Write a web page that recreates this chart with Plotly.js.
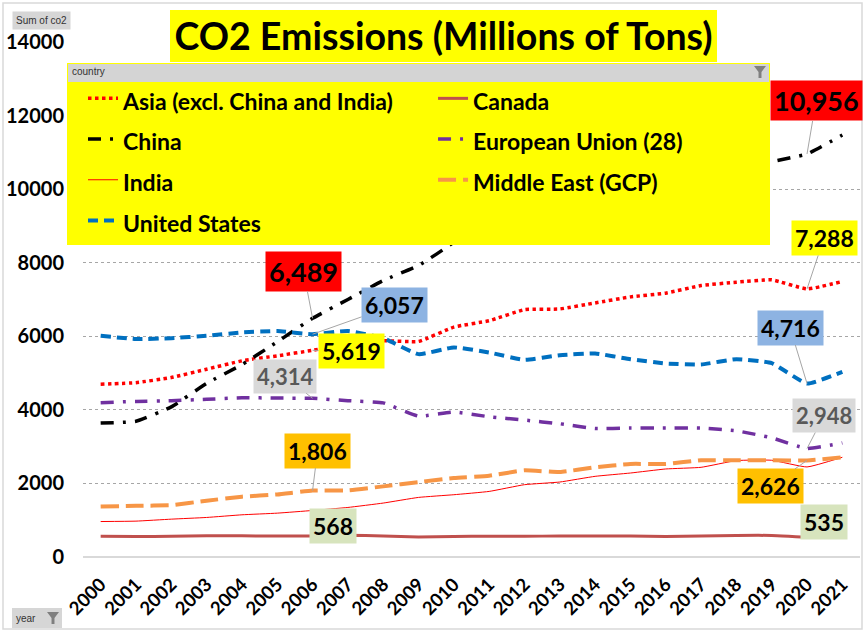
<!DOCTYPE html>
<html>
<head>
<meta charset="utf-8">
<script src="https://cdn.plot.ly/plotly-3.0.1.min.js"></script>
<style>
  html, body { margin: 0; padding: 0; background: #ffffff; }
  #chart { width: 865px; height: 632px; }
</style>
</head>
<body>
<div id="chart"></div>
<script>
// ---------- data ----------
const years = ['2000','2001','2002','2003','2004','2005','2006','2007','2008','2009','2010',
               '2011','2012','2013','2014','2015','2016','2017','2018','2019','2020','2021'];
const asia       = [4696, 4740, 4878, 5105, 5332, 5469, 5619, 5790, 5880, 5860, 6250, 6424, 6724, 6743, 6907, 7071, 7172, 7380, 7471, 7535, 7288, 7490];
const canada     = [565, 555, 565, 575, 575, 570, 568, 590, 572, 545, 560, 565, 565, 570, 570, 570, 560, 570, 585, 585, 535, 545];
const china      = [3640, 3690, 4080, 4720, 5230, 5850, 6489, 7000, 7516, 7925, 8560, 9530, 9780, 9960, 10010, 9860, 9840, 10010, 10350, 10740, 10956, 11470];
const eu         = [4196, 4230, 4250, 4286, 4330, 4320, 4314, 4250, 4190, 3830, 3940, 3813, 3722, 3622, 3494, 3504, 3504, 3504, 3431, 3240, 2948, 3103];
const india      = [964, 975, 1029, 1075, 1147, 1192, 1265, 1347, 1466, 1620, 1693, 1783, 1966, 2038, 2193, 2283, 2393, 2438, 2621, 2630, 2448, 2711];
const middleEast = [1374, 1390, 1410, 1530, 1640, 1700, 1806, 1810, 1920, 2038, 2147, 2210, 2356, 2310, 2438, 2530, 2530, 2630, 2630, 2630, 2626, 2711];
const us         = [6014, 5924, 5950, 6014, 6105, 6142, 6057, 6142, 5950, 5515, 5697, 5560, 5360, 5487, 5533, 5378, 5260, 5233, 5378, 5269, 4716, 5032];

const seriesNames = ['Asia (excl. China and India)', 'Canada', 'China', 'European Union (28)',
                     'India', 'Middle East (GCP)', 'United States'];
const yTicks = [0, 2000, 4000, 6000, 8000, 10000, 12000, 14000];

// ---------- styles ----------
const FONT = 'Lato, "Open Sans", "Liberation Sans", sans-serif';
const seriesData = [asia, canada, china, eu, india, middleEast, us];
const lineStyles = [
  {color: '#ff0000', width: 3.5, dash: 'dot'},
  {color: '#c0504d', width: 3, dash: 'solid'},
  {color: '#000000', width: 3.5, dash: '13px,9px,3px,9px'},
  {color: '#7030a0', width: 3.5, dash: '13px,9px,3px,9px'},
  {color: '#ff0000', width: 1, dash: 'solid'},
  {color: '#f79646', width: 4, dash: '18px,7px'},
  {color: '#0070c0', width: 4, dash: '10px,6px'}
];

const traces = seriesData.map((vals, i) => ({
  type: 'scatter', mode: 'lines', x: years, y: vals,
  name: '<span style="font-size:23px">' + seriesNames[i] + '</span>',
  line: Object.assign({shape: 'spline', smoothing: 0.4}, lineStyles[i]),
  hoverinfo: 'skip'
}));

// data labels: which series / which year, and the label box style
const labelSpecs = [
  {s: 2, year: '2020', ax: 9,   ay: -53, bg: '#ff0000', size: 27, color: '#000'},
  {s: 0, year: '2020', ax: 17,  ay: -51, bg: '#ffff00', size: 23, color: '#000'},
  {s: 2, year: '2006', ax: -9,  ay: -47, bg: '#ff0000', size: 27, color: '#000'},
  {s: 6, year: '2006', ax: 82,  ay: -29, bg: '#8db3e2', size: 23, color: '#000'},
  {s: 0, year: '2006', ax: 39,  ay: 1,   bg: '#ffff00', size: 23, color: '#000'},
  {s: 3, year: '2006', ax: -28, ay: -22, bg: '#d9d9d9', size: 22, color: '#595959'},
  {s: 5, year: '2006', ax: 5,   ay: -40, bg: '#ffc000', size: 23, color: '#000'},
  {s: 1, year: '2006', ax: 20,  ay: -10, bg: '#d7e4bd', size: 23, color: '#000'},
  {s: 6, year: '2020', ax: -17, ay: -56, bg: '#8db3e2', size: 23, color: '#000'},
  {s: 3, year: '2020', ax: 17,  ay: -33, bg: '#d9d9d9', size: 22, color: '#595959'},
  {s: 5, year: '2020', ax: -37, ay: 26,  bg: '#ffc000', size: 23, color: '#000'},
  {s: 1, year: '2020', ax: 17,  ay: -15, bg: '#d7e4bd', size: 23, color: '#000'}
];

const annotations = labelSpecs.map(l => {
  const idx = years.indexOf(l.year);
  const v = seriesData[l.s][idx];
  return {
    x: idx, y: v, xref: 'x', yref: 'y',
    text: v.toLocaleString('en-US'),
    showarrow: true, arrowhead: 0, arrowwidth: 1, arrowcolor: '#a6a6a6',
    ax: l.ax, ay: l.ay, standoff: 0,
    bgcolor: l.bg, borderpad: 3,
    font: {family: FONT, size: l.size, weight: 'bold', color: l.color}
  };
});

// pixel helpers for decoration shapes (plot area l=83, t=42, w=777, h=515)
const px = x => (x - 83) / 777;
const py = y => (557 - y) / 515;

// pivot-chart buttons and legend header text
annotations.push(
  {xref: 'paper', yref: 'paper', x: px(12), y: py(21), xanchor: 'left', yanchor: 'middle',
   text: 'Sum of co2', showarrow: false, bgcolor: '#d6d6d6', borderpad: 3,
   font: {family: '"Liberation Sans", sans-serif', size: 10, color: '#333333'}},
  {xref: 'paper', yref: 'paper', x: px(14), y: py(618), xanchor: 'left', yanchor: 'middle',
   text: 'year', showarrow: false,
   font: {family: '"Liberation Sans", sans-serif', size: 10, color: '#333333'}},
  {xref: 'paper', yref: 'paper', x: px(70), y: py(72), xanchor: 'left', yanchor: 'middle',
   text: 'country', showarrow: false,
   font: {family: '"Liberation Sans", sans-serif', size: 10, color: '#333333'}}
);

const funnel = (cx, cy) => {
  const p = (x, y) => px(x).toFixed(4) + ',' + py(y).toFixed(4);
  return 'M' + p(cx - 6, cy - 6) + ' L' + p(cx + 6, cy - 6) + ' L' + p(cx + 1.5, cy) +
         ' L' + p(cx + 1.5, cy + 6) + ' L' + p(cx - 1.5, cy + 6) + ' L' + p(cx - 1.5, cy) + ' Z';
};

const shapes = [
  // outer frame
  {type: 'rect', xref: 'paper', yref: 'paper', x0: px(3), x1: px(862), y0: py(629), y1: py(3),
   line: {color: '#d9d9d9', width: 1.5}, fillcolor: 'rgba(0,0,0,0)', layer: 'below'},
  // title box
  {type: 'rect', xref: 'paper', yref: 'paper', x0: px(170), x1: px(717), y0: py(62), y1: py(10),
   line: {width: 0}, fillcolor: '#ffff00', layer: 'above'},
  // legend box
  {type: 'rect', xref: 'paper', yref: 'paper', x0: px(67), x1: px(770), y0: py(245), y1: py(63),
   line: {width: 0}, fillcolor: '#ffff00', layer: 'above'},
  // legend header bar
  {type: 'rect', xref: 'paper', yref: 'paper', x0: px(68), x1: px(769), y0: py(82), y1: py(64),
   line: {width: 0}, fillcolor: '#d4d4d4', layer: 'above'},
  {type: 'path', xref: 'paper', yref: 'paper', path: funnel(760, 72),
   line: {width: 0}, fillcolor: '#7f7f7f', layer: 'above'},
  // year button
  {type: 'rect', xref: 'paper', yref: 'paper', x0: px(12), x1: px(62), y0: py(628), y1: py(608),
   line: {width: 0}, fillcolor: '#d6d6d6', layer: 'above'},
  {type: 'path', xref: 'paper', yref: 'paper', path: funnel(53, 618),
   line: {width: 0}, fillcolor: '#7f7f7f', layer: 'above'}
];

const layout = {
  width: 865, height: 632,
  margin: {l: 83, r: 5, t: 42, b: 75},
  paper_bgcolor: '#ffffff', plot_bgcolor: '#ffffff',
  font: {family: FONT, color: '#000000'},
  title: {
    text: 'CO2 Emissions (Millions of Tons)',
    font: {family: FONT, size: 37.5, weight: 'bold', color: '#000000'},
    xref: 'paper', x: px(443.5), xanchor: 'center',
    yref: 'container', y: 1 - 37 / 632, yanchor: 'middle'
  },
  xaxis: {
    type: 'category', tickangle: -45, range: [-0.5, years.length - 0.5],
    tickfont: {family: FONT, size: 18.5, weight: 'bold', color: '#000'},
    showgrid: false, showline: false, ticks: '', zeroline: false, ticklabelstandoff: 12
  },
  yaxis: {
    range: [0, 14000], tickvals: yTicks, ticktext: yTicks.map(String),
    tickfont: {family: FONT, size: 20, weight: 'bold', color: '#000'},
    showgrid: true, gridcolor: '#a6a6a6', griddash: 'dot', gridwidth: 1,
    zeroline: true, zerolinecolor: '#d9d9d9', zerolinewidth: 1.5,
    ticks: '', ticklabelstandoff: 18, showline: false
  },
  showlegend: true,
  legend: {
    orientation: 'h', x: 0, xanchor: 'left', y: py(73), yanchor: 'top',
    bgcolor: 'rgba(0,0,0,0)', borderwidth: 0,
    font: {family: FONT, size: 29, weight: 'bold', color: '#000'},
    entrywidth: 0.4505, entrywidthmode: 'fraction', itemwidth: 30, traceorder: 'normal'
  },
  shapes: shapes,
  annotations: annotations
};

Plotly.newPlot('chart', traces, layout, {displayModeBar: false, staticPlot: true});
</script>
</body>
</html>
